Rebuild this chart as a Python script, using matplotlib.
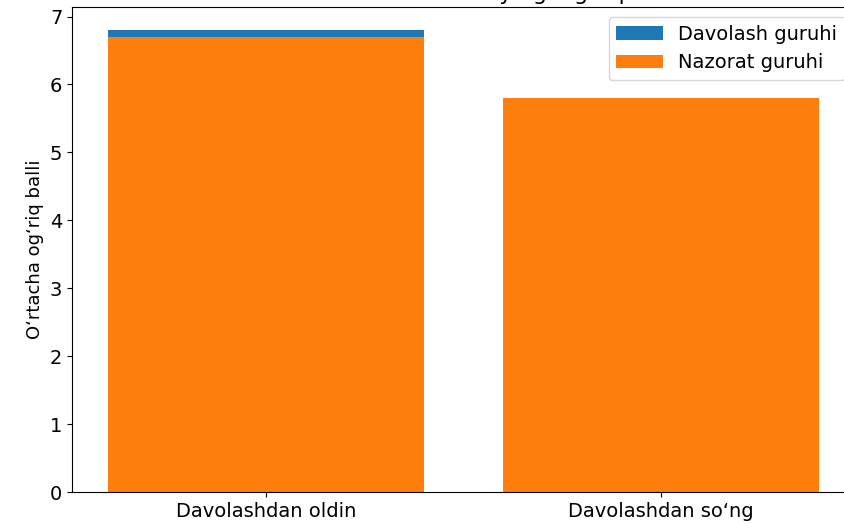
import matplotlib
matplotlib.use("Agg")
import matplotlib.pyplot as plt

categories = ["Davolashdan oldin", "Davolashdan so‘ng"]
treatment = [6.8, 5.7]
control = [6.7, 5.8]
series_labels = ["Davolash guruhi", "Nazorat guruhi"]
title = "Davolashdan oldin va keyingi og‘riq ballari"
ylabel = "O‘rtacha og‘riq balli"

W, H = 845, 524
fig = plt.figure(figsize=(W / 100, H / 100), dpi=100)
ax = fig.add_axes([72 / W, 32 / H, 783 / W, 485 / H])

ax.bar(categories, treatment, width=0.8, color="#1f77b4", label=series_labels[0])
ax.bar(categories, control, width=0.8, color="#ff7f0e", label=series_labels[1])

ax.set_title(title, fontsize=16, pad=5)
ax.set_ylabel(ylabel, fontsize=13)
ax.tick_params(axis="both", labelsize=14)
ax.legend(loc="upper right", fontsize=14, handlelength=2.4)

fig.savefig("out.png", dpi=100)
